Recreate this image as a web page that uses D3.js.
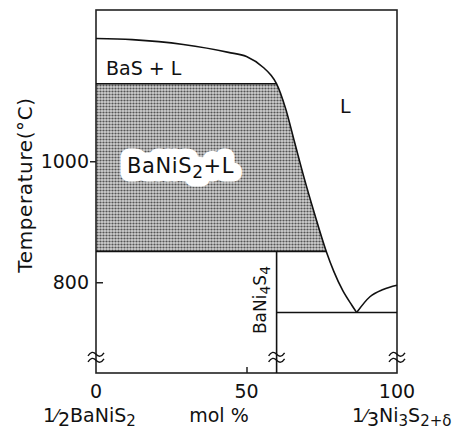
<!DOCTYPE html>
<html>
<head>
<meta charset="utf-8">
<script src="https://cdn.jsdelivr.net/npm/d3@7"></script>
<style>
  html, body { margin: 0; padding: 0; background: #fff; }
  svg { display: block; }
  text { font-family: "DejaVu Sans", sans-serif; fill: #111; }
</style>
</head>
<body>
<svg id="chart" width="461" height="436"></svg>
<script>
// Composition axis: mol % of 1/3 Ni3S2+δ in 1/2 BaNiS2
const xDomain = [0, 100];
const tempDomain = [650, 1250];
const xTicks = [0, 50, 100];
const tempTicksOut = [1000];
const tempTicksIn = [800];
const tempTickLabels = [1000, 800];

// Liquidus on the BaNiS2-rich side (BaS primary field, then BaNiS2 field), down to the eutectic
const liquidusMol  = [0, 12, 29, 44, 50, 55.6, 58, 60, 63, 66, 69, 72.5, 76.5, 79, 82, 85, 86.6];
const liquidusTemp = [1203, 1201, 1193, 1180, 1173, 1155, 1143, 1128, 1087, 1031, 975, 915, 851, 818, 786, 762, 750];

// Liquidus on the Ni3S2-rich side
const niLiquidusMol  = [86.6, 91.0, 95.4, 100];
const niLiquidusTemp = [750, 776, 788, 795];

// Invariant temperatures and the compound line
const basSolidusTemp = 1128;   // BaS + L / BaNiS2 + L boundary
const baniS2LowerTemp = 851;   // lower limit of BaNiS2 + L
const eutecticTemp = 750;
const baNi4S4Mol = 60;
const breakTemp = 676;

const svg = d3.select("#chart");
const x = d3.scaleLinear().domain(xDomain).range([96, 397]);
const y = d3.scaleLinear().domain(tempDomain).range([373, 10]);

const liquidus = liquidusMol.map((m, i) => [m, liquidusTemp[i]]);
const niLiquidus = niLiquidusMol.map((m, i) => [m, niLiquidusTemp[i]]);

const line = d3.line().x(d => x(d[0])).y(d => y(d[1])).curve(d3.curveMonotoneX);

// Halftone for the BaNiS2 + L field
const defs = svg.append("defs");
const pat = defs.append("pattern").attr("id", "dots")
  .attr("patternUnits", "userSpaceOnUse").attr("width", 3).attr("height", 3);
pat.append("rect").attr("width", 3).attr("height", 3).attr("fill", "#d0d0d0");
pat.append("circle").attr("cx", 1.5).attr("cy", 1.5).attr("r", 1.1).attr("fill", "#555");

// Shaded field: bounded by the two horizontals and the liquidus
const fieldEdge = liquidus.filter(d => d[1] <= basSolidusTemp && d[1] >= baniS2LowerTemp);
const lastEdge = fieldEdge[fieldEdge.length - 1];
const edgePath = line(fieldEdge);
svg.append("path")
  .attr("d", `M${x(0)},${y(basSolidusTemp)}L${edgePath.slice(1)}L${x(lastEdge[0])},${y(baniS2LowerTemp)}L${x(0)},${y(baniS2LowerTemp)}Z`)
  .attr("fill", "url(#dots)");

// Frame
svg.append("rect")
  .attr("x", x(0)).attr("y", y(tempDomain[1]))
  .attr("width", x(100) - x(0)).attr("height", y(tempDomain[0]) - y(tempDomain[1]))
  .attr("fill", "none").attr("stroke", "#222").attr("stroke-width", 1.6);

// Axes (tick marks only; labels drawn below)
const axOut = svg.append("g").attr("transform", `translate(${x(0)},0)`)
  .call(d3.axisLeft(y).tickValues(tempTicksOut).tickSizeInner(6).tickSizeOuter(0).tickFormat(""));
const axIn = svg.append("g").attr("transform", `translate(${x(0)},0)`)
  .call(d3.axisLeft(y).tickValues(tempTicksIn).tickSizeInner(-7).tickSizeOuter(0).tickFormat(""));
const axX = svg.append("g").attr("transform", `translate(0,${y(tempDomain[0])})`)
  .call(d3.axisBottom(x).tickValues([50]).tickSizeInner(-6).tickSizeOuter(0).tickFormat(""));
[axOut, axIn, axX].forEach(g => {
  g.select(".domain").remove();
  g.selectAll("line").attr("stroke", "#222").attr("stroke-width", 1.5);
});

// Phase boundaries
const stroke = sel => sel.attr("fill", "none").attr("stroke", "#111").attr("stroke-width", 1.6);
svg.append("path").attr("d", line(liquidus)).call(stroke);
svg.append("path").attr("d", line(niLiquidus)).call(stroke);
svg.append("line").attr("x1", x(0)).attr("x2", x(baNi4S4Mol)).attr("y1", y(basSolidusTemp)).attr("y2", y(basSolidusTemp)).call(stroke);
svg.append("line").attr("x1", x(0)).attr("x2", x(lastEdge[0])).attr("y1", y(baniS2LowerTemp)).attr("y2", y(baniS2LowerTemp)).call(stroke);
svg.append("line").attr("x1", x(baNi4S4Mol)).attr("x2", x(100)).attr("y1", y(eutecticTemp)).attr("y2", y(eutecticTemp)).call(stroke);
svg.append("line").attr("x1", x(baNi4S4Mol)).attr("x2", x(baNi4S4Mol)).attr("y1", y(baniS2LowerTemp)).attr("y2", y(tempDomain[0])).call(stroke);

// Scale-break marks
[0, baNi4S4Mol, 100].forEach(m => {
  const cx = x(m), cy = y(breakTemp);
  [-3, 3].forEach(off => {
    svg.append("path")
      .attr("d", `M${cx - 8},${cy + off + 1.5}q4,-6 8,-1.5t8,-1.5`)
      .attr("fill", "none").attr("stroke", "#111").attr("stroke-width", 1.4);
  });
});

// Tick labels
svg.selectAll(".ylab").data(tempTickLabels).join("text")
  .attr("x", x(0) - 7).attr("y", d => y(d) + 7)
  .attr("text-anchor", "end").attr("font-size", 19).text(d => d);
svg.selectAll(".xlab").data(xTicks).join("text")
  .attr("x", d => x(d)).attr("y", 398)
  .attr("text-anchor", "middle").attr("font-size", 19).text(d => d);

// Axis titles
svg.append("text").attr("transform", "translate(32,185) rotate(-90)")
  .attr("text-anchor", "middle").attr("font-size", 20).attr("letter-spacing", 0.6)
  .text("Temperature(°C)");
svg.append("text").attr("x", 219).attr("y", 422).attr("text-anchor", "middle")
  .attr("font-size", 19).text("mol %");

const left = svg.append("text").attr("x", 43).attr("y", 422).attr("font-size", 19);
left.append("tspan").text("1");
left.append("tspan").attr("font-size", 17).text("⁄");
left.append("tspan").attr("dy", 4).text("2");
left.append("tspan").attr("dy", -4).text("BaNiS");
left.append("tspan").attr("dy", 4).attr("font-size", 15).text("2");

const right = svg.append("text").attr("x", 352).attr("y", 422).attr("font-size", 19);
right.append("tspan").text("1");
right.append("tspan").attr("font-size", 17).text("⁄");
right.append("tspan").attr("dy", 4).text("3");
right.append("tspan").attr("dy", -4).text("Ni");
right.append("tspan").attr("dy", 4).attr("font-size", 15).text("3");
right.append("tspan").attr("dy", -4).text("S");
right.append("tspan").attr("dy", 4).attr("font-size", 15).text("2+δ");

// Field labels
svg.append("text").attr("x", 106).attr("y", 75).attr("font-size", 19).text("BaS + L");
svg.append("text").attr("x", 340).attr("y", 113).attr("font-size", 19).text("L");

// BaNiS2 + L sits on a white halo cut out of the halftone
function fieldLabel(g, halo) {
  const t = g.append("text").attr("x", 127).attr("y", 173).attr("font-size", 21)
    .attr("letter-spacing", 0.6);
  if (halo) {
    t.attr("stroke", "#fff").attr("stroke-width", 17)
      .attr("stroke-linejoin", "round").style("fill", "#fff");
  }
  t.append("tspan").text("BaNiS");
  t.append("tspan").attr("dy", 5).attr("font-size", 17).text("2");
  t.append("tspan").attr("dy", -5).text("+L");
}
fieldLabel(svg.append("g"), true);
fieldLabel(svg.append("g"), false);

const cmp = svg.append("text").attr("transform", `translate(${x(baNi4S4Mol) - 11},300) rotate(-90)`)
  .attr("text-anchor", "middle").attr("font-size", 17);
cmp.append("tspan").text("BaNi");
cmp.append("tspan").attr("dy", 4).attr("font-size", 14).text("4");
cmp.append("tspan").attr("dy", -4).text("S");
cmp.append("tspan").attr("dy", 4).attr("font-size", 14).text("4");
</script>
</body>
</html>
